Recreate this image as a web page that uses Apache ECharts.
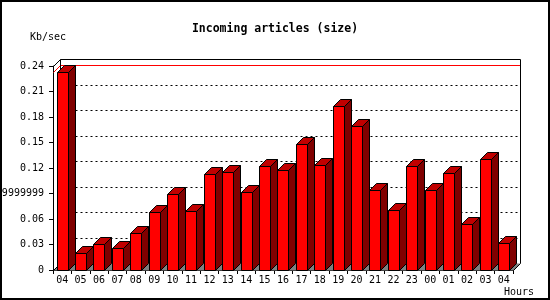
<!DOCTYPE html>
<html>
<head>
<meta charset="utf-8">
<script src="https://cdn.jsdelivr.net/npm/echarts@6/dist/echarts.min.js"></script>
<style>html,body{margin:0;padding:0;background:#fff}#c{width:550px;height:300px}</style>
</head>
<body>
<div id="c"></div>
<script>
const titleText = 'Incoming articles (size)';
const yUnit = 'Kb/sec';
const xUnit = 'Hours';
const categories = ['04','05','06','07','08','09','10','11','12','13','14','15','16','17','18','19','20','21','22','23','00','01','02','03','04'];
const values = [0.2326,0.0196,0.0302,0.0255,0.0431,0.0678,0.0890,0.0690,0.1126,0.1150,0.0914,0.1224,0.1173,0.1480,0.1231,0.1926,0.1690,0.0937,0.0702,0.1220,0.0937,0.1137,0.0537,0.1302,0.0314];
const yTickValues = [0,0.03,0.06,0.09,0.12,0.15,0.18,0.21,0.24];
const yTickLabels = ['0','0.03','0.06','0.0899999999','0.12','0.15','0.18','0.21','0.24'];

const FONT = 'DejaVu Sans Mono';
const D = 7; // 3D depth in px
const chart = echarts.init(document.getElementById('c'), null, {renderer:'canvas'});
const maxVal = Math.max.apply(null, values);

function frameRender(params, api) {
  const n = categories.length;
  const p0 = api.coord([0, 0]);
  const bw = api.size([1, 0])[0];
  const xl = Math.round(p0[0] - bw / 2) + 0.5;
  const xr = Math.round(p0[0] - bw / 2 + bw * n) + 0.5;
  const yb = Math.round(p0[1]) + 0.5;
  const yt = Math.round(api.coord([0, yTickValues[yTickValues.length - 1]])[1]) + 0.5;
  const children = [];
  children.push({type:'polygon', shape:{points:[[xl,yb],[xl+D,yb-D],[xr+D,yb-D],[xr,yb]]}, style:{fill:'#808080', stroke:null}});
  for (let k = 1; k < yTickValues.length - 1; k++) {
    const y = Math.round(api.coord([0, yTickValues[k]])[1]) - D + 0.5;
    children.push({type:'line', shape:{x1:xl+D, y1:y, x2:xr+D, y2:y}, style:{stroke:'#000', lineWidth:1, lineDash:[2,3]}});
  }
  const ym = Math.round(api.coord([0, maxVal])[1]) + 0.5;
  children.push({type:'line', shape:{x1:xl+D, y1:ym-D, x2:xr+D, y2:ym-D}, style:{stroke:'#ff0000', lineWidth:1}});
  children.push({type:'line', shape:{x1:xl, y1:ym, x2:xl+D, y2:ym-D}, style:{stroke:'#ff0000', lineWidth:1}});
  const st = {stroke:'#000', lineWidth:1, fill:null};
  children.push({type:'polyline', shape:{points:[[xl,yt],[xl+D,yt-D],[xr+D,yt-D],[xr+D,yb-D],[xr,yb]]}, style:st});
  children.push({type:'line', shape:{x1:xl+D, y1:yt-D, x2:xl+D, y2:yb-D}, style:st});
  children.push({type:'line', shape:{x1:xl, y1:yb, x2:xl+D, y2:yb-D}, style:st});
  return {type:'group', children:children};
}

function barRender(params, api) {
  const i = api.value(0);
  const v = api.value(1);
  const top = api.coord([i, v]);
  const base = api.coord([i, 0]);
  const bw = api.size([1, 0])[0];
  const x0 = Math.round(top[0] - bw / 2 + 3.5) + 0.5;
  const w = 11;
  const yT = Math.round(top[1]) + 0.5;
  const yB = Math.round(base[1]) + 0.5;
  const s = {stroke:'#000', lineWidth:1};
  return {type:'group', children:[
    {type:'polygon', shape:{points:[[x0+w,yT],[x0+w+D,yT-D],[x0+w+D,yB-D],[x0+w,yB]]}, style:Object.assign({fill:'#800000'}, s)},
    {type:'polygon', shape:{points:[[x0,yT],[x0+D,yT-D],[x0+w+D,yT-D],[x0+w,yT]]}, style:Object.assign({fill:'#c00000'}, s)},
    {type:'rect', shape:{x:x0, y:yT, width:w, height:yB-yT}, style:Object.assign({fill:'#ff0000'}, s)}
  ]};
}

chart.setOption({
  animation:false,
  backgroundColor:'#ffffff',
  title:{text:titleText, left:'center', top:18, textStyle:{fontFamily:FONT, fontWeight:'bold', fontSize:11.5, color:'#000'}},
  grid:{left:53, right:37, top:66, bottom:30, containLabel:false, outerBoundsMode:'none'},
  xAxis:{
    type:'category', data:categories, boundaryGap:true,
    axisLine:{lineStyle:{color:'#000', width:1}},
    axisTick:{show:true, interval:0, length:4, lineStyle:{color:'#000'}},
    axisLabel:{interval:0, margin:5, fontFamily:FONT, fontSize:10, color:'#000', hideOverlap:false},
    splitLine:{show:false}
  },
  yAxis:{
    type:'value', min:0, max:0.24, interval:0.03,
    axisLine:{show:true, lineStyle:{color:'#000', width:1}},
    axisTick:{show:true, length:4, lineStyle:{color:'#000'}},
    axisLabel:{margin:9, fontFamily:FONT, fontSize:10, color:'#000',
      formatter:function(v){ const k = Math.round(v / 0.03); return yTickLabels[k]; }},
    splitLine:{show:false}
  },
  graphic:[
    {type:'rect', shape:{x:1, y:1, width:548, height:298}, style:{fill:null, stroke:'#000', lineWidth:2}, z:100},
    {type:'text', left:30, top:32, style:{text:yUnit, fontFamily:FONT, fontSize:10, fill:'#000'}},
    {type:'text', left:504, top:287, style:{text:xUnit, fontFamily:FONT, fontSize:10, fill:'#000'}}
  ],
  series:[
    {type:'custom', renderItem:frameRender, data:[[0,0]], z:1, silent:true, clip:false},
    {type:'custom', renderItem:barRender, data:values.map(function(v,i){return [i,v];}), encode:{x:0,y:1}, z:2, clip:false}
  ]
});
</script>
</body>
</html>
